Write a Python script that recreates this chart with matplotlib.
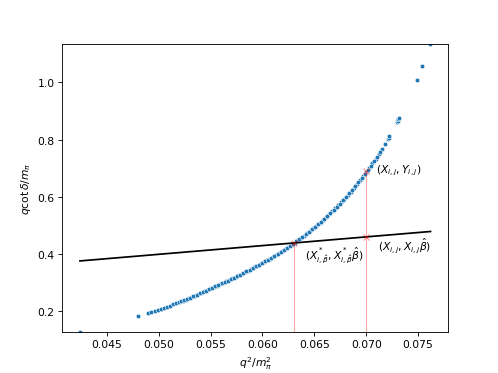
import numpy as np
import matplotlib
matplotlib.use("Agg")
import matplotlib.pyplot as plt

# scatter of q^2/m_pi^2 vs q cot(delta)/m_pi
q2 = [0.0424, 0.0480,
      0.0490, 0.0493, 0.0496, 0.0499, 0.0502, 0.0505, 0.0508, 0.0511, 0.0514, 0.0517,
      0.0520, 0.0523, 0.0526, 0.0529, 0.0532, 0.0535, 0.0538, 0.0541, 0.0544, 0.0547,
      0.0550, 0.0553, 0.0556, 0.0559, 0.0562, 0.0565, 0.0568, 0.0571, 0.0574, 0.0577,
      0.0580, 0.0583, 0.0586, 0.0589, 0.0592, 0.0595, 0.0598, 0.0601, 0.0604, 0.0607,
      0.0610, 0.0613, 0.0616, 0.0619, 0.0622, 0.0625, 0.0628, 0.0631, 0.0634, 0.0637,
      0.0640, 0.0643, 0.0646, 0.0649, 0.0652, 0.0655, 0.0658, 0.0661, 0.0664, 0.0667,
      0.0670, 0.0673, 0.0676, 0.0679, 0.0682, 0.0685, 0.0688, 0.0691, 0.0694, 0.0697,
      0.0700, 0.0703, 0.0706, 0.0709, 0.0712, 0.0715,
      0.07185, 0.0721, 0.07215, 0.0722, 0.0730, 0.07305, 0.0731, 0.07315,
      0.07487, 0.07538, 0.07615]
qcot = [0.129, 0.184,
        0.1950, 0.1985, 0.2020, 0.2055, 0.2090, 0.2125, 0.2162, 0.2200, 0.2240, 0.2280,
        0.2322, 0.2365, 0.2410, 0.2456, 0.2503, 0.2551, 0.2600, 0.2650, 0.2700, 0.2750,
        0.2800, 0.2850, 0.2900, 0.2950, 0.3000, 0.3050, 0.3100, 0.3151, 0.3203, 0.3256,
        0.3310, 0.3365, 0.3421, 0.3478, 0.3536, 0.3595, 0.3655, 0.3716, 0.3778, 0.3841,
        0.3905, 0.3970, 0.4037, 0.4106, 0.4177, 0.4250, 0.4325, 0.4402, 0.4481, 0.4562,
        0.4645, 0.4730, 0.4817, 0.4906, 0.4997, 0.5090, 0.5186, 0.5285, 0.5387, 0.5492,
        0.5600, 0.5711, 0.5825, 0.5942, 0.6062, 0.6186, 0.6314, 0.6446, 0.6582, 0.6722,
        0.6866, 0.7015, 0.7169, 0.7328, 0.7492, 0.7662,
        0.786, 0.801, 0.806, 0.812, 0.862, 0.866, 0.871, 0.875,
        1.008, 1.059, 1.134]

# extra samples in the dense part of the curve
q2_dense = [0.05215, 0.05245, 0.05275, 0.05305, 0.05335, 0.05365, 0.05395, 0.05425,
            0.05455, 0.05485, 0.05515, 0.05545, 0.05575, 0.05605, 0.05635, 0.05665,
            0.05695, 0.05725, 0.05755, 0.05785, 0.05815, 0.05845, 0.05875, 0.05905,
            0.05935, 0.05965, 0.05995, 0.06025, 0.06055, 0.06085, 0.06115, 0.06145,
            0.06175, 0.06205, 0.06235, 0.06265, 0.06295, 0.06325, 0.06355, 0.06385,
            0.06415, 0.06445, 0.06475, 0.06505, 0.06535, 0.06565, 0.06595, 0.06625,
            0.06655, 0.06685, 0.06715, 0.06745, 0.06775, 0.06805, 0.06835, 0.06865,
            0.06895, 0.06925, 0.06955, 0.06985, 0.07015, 0.07045, 0.07075, 0.07105,
            0.07135]
qcot_dense = [0.2344, 0.2388, 0.2433, 0.2480, 0.2527, 0.2576, 0.2625, 0.2675,
              0.2725, 0.2775, 0.2825, 0.2875, 0.2925, 0.2975, 0.3025, 0.3075,
              0.3126, 0.3177, 0.3230, 0.3283, 0.3338, 0.3393, 0.3450, 0.3507,
              0.3566, 0.3625, 0.3686, 0.3747, 0.3810, 0.3873, 0.3938, 0.4004,
              0.4072, 0.4142, 0.4214, 0.4288, 0.4364, 0.4442, 0.4522, 0.4604,
              0.4688, 0.4774, 0.4862, 0.4952, 0.5044, 0.5138, 0.5236, 0.5336,
              0.5440, 0.5546, 0.5656, 0.5768, 0.5884, 0.6002, 0.6124, 0.6250,
              0.6380, 0.6514, 0.6652, 0.6794, 0.6940, 0.7092, 0.7248, 0.7410,
              0.7577]

# fitted line X*beta_hat
fit_x = [0.0424, 0.0762]
fit_y = [0.376, 0.479]

# highlighted points
x_star = 0.063
y_star = 0.439
x_ij = 0.070
y_ij = 0.690
y_fit_ij = 0.460

fig, ax = plt.subplots(figsize=(498 / 77.8, 374 / 77.8), dpi=77.8)

ax.scatter(q2 + q2_dense, qcot + qcot_dense, s=18, color='C0', edgecolor='white',
           linewidth=0.5, zorder=2)
ax.plot(fit_x, fit_y, color='black', lw=1.6, zorder=3)

# red guides
ax.plot([x_star, x_star], [0, y_star], color='red', alpha=0.35, lw=1, zorder=4)
ax.plot([x_ij, x_ij], [0, y_ij], color='red', alpha=0.35, lw=1, zorder=4)
ax.plot([x_star, x_ij, x_ij], [y_star, y_ij, y_fit_ij], 'x', color='red',
        alpha=0.45, markersize=5, zorder=5)

ax.text(0.0709, 0.695, r'$(X_{i,j}, Y_{i,j})$', ha='left', va='center', fontsize=10)
ax.text(0.0711, 0.432, r'$(X_{i,j}, X_{i,j}\hat{\beta})$', ha='left', va='center', fontsize=10)
ax.text(0.0641, 0.397, r'$(X^*_{i,\hat{\beta}}, X^*_{i,\hat{\beta}}\hat{\beta})$',
        ha='left', va='center', fontsize=10)

ax.set_xlim(0.0407, 0.0779)
ax.set_ylim(0.128, 1.135)
ax.set_xlabel(r'$q^2/m_\pi^2$')
ax.set_ylabel(r'$q\cot\delta/m_\pi$')

fig.savefig('out.png', dpi=77.8)
